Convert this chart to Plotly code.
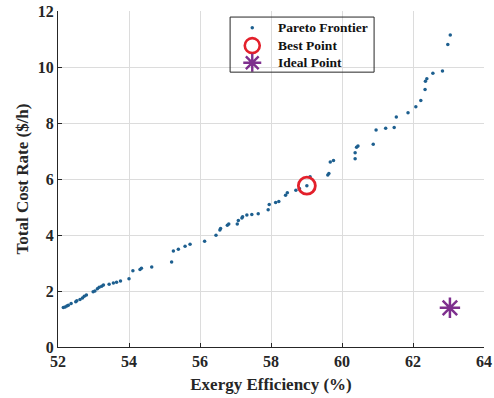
import plotly.graph_objects as go

efficiency = [52.15, 52.20, 52.25, 52.29, 52.37, 52.50, 52.53, 52.62, 52.69, 52.74, 52.80, 52.99, 53.04,
              53.11, 53.16, 53.23, 53.28, 53.44, 53.56, 53.65, 53.76, 54.00, 54.11, 54.31, 54.35, 54.64,
              55.20, 55.25, 55.39, 55.58, 55.72, 56.13, 56.45, 56.56, 56.58, 56.77, 56.81, 57.05, 57.08,
              57.18, 57.20, 57.32, 57.46, 57.64, 57.92, 57.95, 58.13, 58.22, 58.41, 58.46, 58.70, 58.80,
              59.01, 59.10, 59.60, 59.63, 59.67, 59.76, 60.37, 60.37, 60.41, 60.45, 60.88, 60.96, 61.23,
              61.47, 61.53, 61.86, 62.08, 62.22, 62.34, 62.35, 62.39, 62.56, 62.83, 62.98, 63.05]
cost_rate = [1.41, 1.43, 1.46, 1.49, 1.55, 1.62, 1.65, 1.70, 1.75, 1.81, 1.86, 1.97, 2.00,
             2.08, 2.13, 2.17, 2.21, 2.24, 2.29, 2.31, 2.36, 2.44, 2.72, 2.77, 2.81, 2.86,
             3.04, 3.43, 3.49, 3.60, 3.67, 3.78, 3.99, 4.18, 4.23, 4.35, 4.39, 4.39, 4.52,
             4.61, 4.65, 4.71, 4.73, 4.76, 4.90, 5.09, 5.16, 5.20, 5.42, 5.51, 5.60, 5.66,
             5.76, 6.08, 6.14, 6.20, 6.61, 6.66, 6.72, 6.94, 7.13, 7.18, 7.24, 7.75, 7.81,
             7.84, 8.21, 8.37, 8.58, 8.80, 9.20, 9.49, 9.58, 9.78, 9.86, 10.80, 11.14]

best_point = ([59.01], [5.76])
ideal_point = ([63.04], [1.40])

x_ticks = [52, 54, 56, 58, 60, 62, 64]
y_ticks = [0, 2, 4, 6, 8, 10, 12]

legend_labels = ["Pareto Frontier", "Best Point", "Ideal Point"]

FONT = "Liberation Serif"
BLUE = "#1d5f8f"
RED = "#e3202b"
PURPLE = "#7e2f8e"

fig = go.Figure()
fig.add_trace(go.Scatter(x=efficiency, y=cost_rate, mode="markers", name=legend_labels[0],
                         marker=dict(size=3.5, color=BLUE), showlegend=False))
fig.add_trace(go.Scatter(x=best_point[0], y=best_point[1], mode="markers", name=legend_labels[1],
                         marker=dict(symbol="circle-open", size=17, color=RED,
                                     line=dict(width=2.8, color=RED)), showlegend=False))
fig.add_trace(go.Scatter(x=ideal_point[0], y=ideal_point[1], mode="markers", name=legend_labels[2],
                         marker=dict(symbol="asterisk-open", size=17, color=PURPLE,
                                     line=dict(width=2.5, color=PURPLE)), showlegend=False))

# ---- manual legend (box, symbols on a helper 0..1 axis, labels) ----
lg_x0, lg_x1, lg_y0, lg_y1 = 0.404, 0.742, 0.818, 0.982   # legend box in paper coords
sym_x = 0.456
row_y = [0.950, 0.897, 0.846]
text_x = 0.512
legend_styles = [
    dict(size=3.5, color=BLUE, symbol="circle"),
    dict(symbol="circle-open", size=15, color=RED, line=dict(width=2.6, color=RED)),
    dict(symbol="asterisk-open", size=15, color=PURPLE, line=dict(width=2.4, color=PURPLE)),
]
fig.add_shape(type="rect", xref="paper", yref="paper", x0=lg_x0, x1=lg_x1, y0=lg_y0, y1=lg_y1,
              line=dict(width=0), fillcolor="white", layer="between")
fig.add_shape(type="rect", xref="paper", yref="paper", x0=lg_x0, x1=lg_x1, y0=lg_y0, y1=lg_y1,
              line=dict(color="#262626", width=1), fillcolor="rgba(0,0,0,0)", layer="above")
for lbl, style, ry in zip(legend_labels, legend_styles, row_y):
    fig.add_trace(go.Scatter(x=[sym_x], y=[ry], mode="markers", marker=style, xaxis="x2", yaxis="y2",
                             showlegend=False, hoverinfo="skip"))
    fig.add_annotation(x=text_x, y=ry, xref="paper", yref="paper", text=f"<b>{lbl}</b>",
                       showarrow=False, xanchor="left", yanchor="middle",
                       font=dict(family=FONT, size=13.5, color="#111111"))

fig.update_layout(
    width=494, height=398,
    margin=dict(l=58, r=10, t=11, b=51, autoexpand=False),
    paper_bgcolor="white", plot_bgcolor="white",
    font=dict(family=FONT, size=16, color="#262626"),
    showlegend=False,
    xaxis=dict(range=[52, 64], tickvals=x_ticks, ticktext=[f"<b>{v}</b>" for v in x_ticks],
               showgrid=True, gridcolor="#dcdcdc", gridwidth=1, automargin=False,
               showline=True, linecolor="#262626", linewidth=1, mirror=False,
               ticks="inside", ticklen=4, tickcolor="#262626", zeroline=False,
               title=dict(text="<b>Exergy Efficiency (%)</b>", font=dict(size=17, family=FONT), standoff=8)),
    yaxis=dict(range=[0, 12], tickvals=y_ticks, ticktext=[f"<b>{v}</b>" for v in y_ticks],
               showgrid=True, gridcolor="#dcdcdc", gridwidth=1, automargin=False,
               showline=True, linecolor="#262626", linewidth=1, mirror=False,
               ticks="inside", ticklen=4, tickcolor="#262626", zeroline=False,
               title=dict(text="<b>Total Cost Rate ($/h)</b>", font=dict(size=17, family=FONT), standoff=4)),
    xaxis2=dict(range=[0, 1], overlaying="x", visible=False, domain=[0, 1]),
    yaxis2=dict(range=[0, 1], overlaying="y", visible=False, domain=[0, 1]),
)

fig.write_html("out.html")
